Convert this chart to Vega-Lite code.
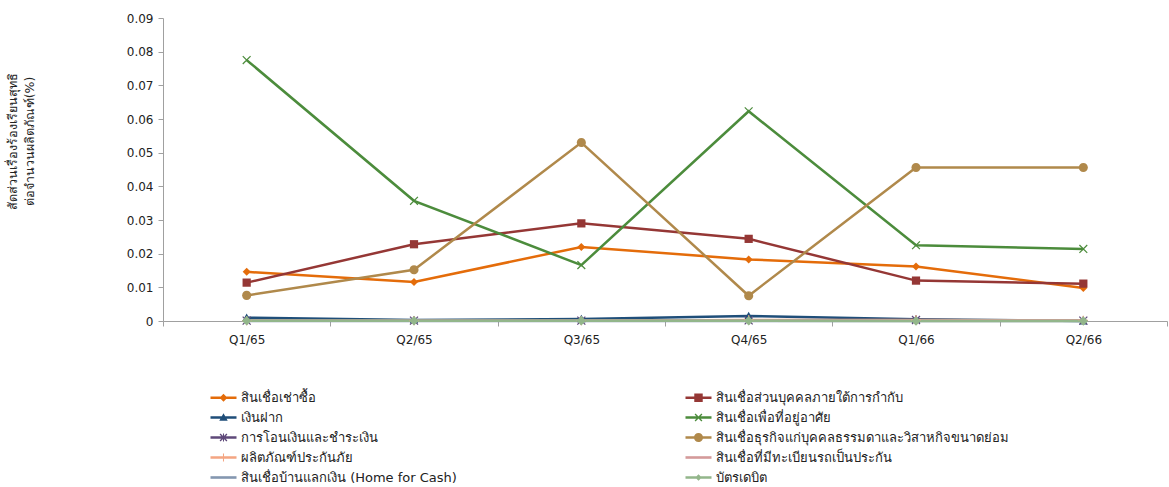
{
  "$schema": "https://vega.github.io/schema/vega-lite/v6.json",
  "autosize": {"type": "none"},
  "padding": {"left": 163, "top": 18, "right": 2, "bottom": 166},
  "width": 1004,
  "height": 303,
  "config": {
    "view": {"stroke": null},
    "font": "DejaVu Sans",
    "axis": {"grid": false, "domainColor": "#a0a0a0", "tickColor": "#a0a0a0", "labelColor": "#222222", "labelFontSize": 12, "tickSize": 5, "labelFont": "DejaVu Sans"}
  },
  "data": {"values": [
    {"q": "Q1/65", "s": "สินเชื่อเช่าซื้อ", "v": 0.0146},
    {"q": "Q2/65", "s": "สินเชื่อเช่าซื้อ", "v": 0.0116},
    {"q": "Q3/65", "s": "สินเชื่อเช่าซื้อ", "v": 0.022},
    {"q": "Q4/65", "s": "สินเชื่อเช่าซื้อ", "v": 0.0183},
    {"q": "Q1/66", "s": "สินเชื่อเช่าซื้อ", "v": 0.0162},
    {"q": "Q2/66", "s": "สินเชื่อเช่าซื้อ", "v": 0.0098},
    {"q": "Q1/65", "s": "สินเชื่อส่วนบุคคลภายใต้การกำกับ", "v": 0.0114},
    {"q": "Q2/65", "s": "สินเชื่อส่วนบุคคลภายใต้การกำกับ", "v": 0.0228},
    {"q": "Q3/65", "s": "สินเชื่อส่วนบุคคลภายใต้การกำกับ", "v": 0.029},
    {"q": "Q4/65", "s": "สินเชื่อส่วนบุคคลภายใต้การกำกับ", "v": 0.0244},
    {"q": "Q1/66", "s": "สินเชื่อส่วนบุคคลภายใต้การกำกับ", "v": 0.012},
    {"q": "Q2/66", "s": "สินเชื่อส่วนบุคคลภายใต้การกำกับ", "v": 0.0111},
    {"q": "Q1/65", "s": "เงินฝาก", "v": 0.001},
    {"q": "Q2/65", "s": "เงินฝาก", "v": 0.0003},
    {"q": "Q3/65", "s": "เงินฝาก", "v": 0.0006},
    {"q": "Q4/65", "s": "เงินฝาก", "v": 0.0015},
    {"q": "Q1/66", "s": "เงินฝาก", "v": 0.0005},
    {"q": "Q2/66", "s": "เงินฝาก", "v": 0.0},
    {"q": "Q1/65", "s": "สินเชื่อเพื่อที่อยู่อาศัย", "v": 0.0775},
    {"q": "Q2/65", "s": "สินเชื่อเพื่อที่อยู่อาศัย", "v": 0.0357},
    {"q": "Q3/65", "s": "สินเชื่อเพื่อที่อยู่อาศัย", "v": 0.0166},
    {"q": "Q4/65", "s": "สินเชื่อเพื่อที่อยู่อาศัย", "v": 0.0623},
    {"q": "Q1/66", "s": "สินเชื่อเพื่อที่อยู่อาศัย", "v": 0.0225},
    {"q": "Q2/66", "s": "สินเชื่อเพื่อที่อยู่อาศัย", "v": 0.0214},
    {"q": "Q1/65", "s": "การโอนเงินและชำระเงิน", "v": 0.0001},
    {"q": "Q2/65", "s": "การโอนเงินและชำระเงิน", "v": 0.0001},
    {"q": "Q3/65", "s": "การโอนเงินและชำระเงิน", "v": 0.0001},
    {"q": "Q4/65", "s": "การโอนเงินและชำระเงิน", "v": 0.0002},
    {"q": "Q1/66", "s": "การโอนเงินและชำระเงิน", "v": 0.0003},
    {"q": "Q2/66", "s": "การโอนเงินและชำระเงิน", "v": 0.0001},
    {"q": "Q1/65", "s": "สินเชื่อธุรกิจแก่บุคคลธรรมดาและวิสาหกิจขนาดย่อม", "v": 0.0076},
    {"q": "Q2/65", "s": "สินเชื่อธุรกิจแก่บุคคลธรรมดาและวิสาหกิจขนาดย่อม", "v": 0.0152},
    {"q": "Q3/65", "s": "สินเชื่อธุรกิจแก่บุคคลธรรมดาและวิสาหกิจขนาดย่อม", "v": 0.053},
    {"q": "Q4/65", "s": "สินเชื่อธุรกิจแก่บุคคลธรรมดาและวิสาหกิจขนาดย่อม", "v": 0.0075},
    {"q": "Q1/66", "s": "สินเชื่อธุรกิจแก่บุคคลธรรมดาและวิสาหกิจขนาดย่อม", "v": 0.0456},
    {"q": "Q2/66", "s": "สินเชื่อธุรกิจแก่บุคคลธรรมดาและวิสาหกิจขนาดย่อม", "v": 0.0456},
    {"q": "Q1/65", "s": "ผลิตภัณฑ์ประกันภัย", "v": 0.0001},
    {"q": "Q2/65", "s": "ผลิตภัณฑ์ประกันภัย", "v": 0.0001},
    {"q": "Q3/65", "s": "ผลิตภัณฑ์ประกันภัย", "v": 0.0001},
    {"q": "Q4/65", "s": "ผลิตภัณฑ์ประกันภัย", "v": 0.0003},
    {"q": "Q1/66", "s": "ผลิตภัณฑ์ประกันภัย", "v": 0.0003},
    {"q": "Q2/66", "s": "ผลิตภัณฑ์ประกันภัย", "v": 0.0002},
    {"q": "Q1/65", "s": "สินเชื่อที่มีทะเบียนรถเป็นประกัน", "v": 0.0001},
    {"q": "Q2/65", "s": "สินเชื่อที่มีทะเบียนรถเป็นประกัน", "v": 0.0001},
    {"q": "Q3/65", "s": "สินเชื่อที่มีทะเบียนรถเป็นประกัน", "v": 0.0001},
    {"q": "Q4/65", "s": "สินเชื่อที่มีทะเบียนรถเป็นประกัน", "v": 0.0001},
    {"q": "Q1/66", "s": "สินเชื่อที่มีทะเบียนรถเป็นประกัน", "v": 0.0001},
    {"q": "Q2/66", "s": "สินเชื่อที่มีทะเบียนรถเป็นประกัน", "v": 0.0001},
    {"q": "Q1/65", "s": "สินเชื่อบ้านแลกเงิน (Home for Cash)", "v": 0.0},
    {"q": "Q2/65", "s": "สินเชื่อบ้านแลกเงิน (Home for Cash)", "v": 0.0},
    {"q": "Q3/65", "s": "สินเชื่อบ้านแลกเงิน (Home for Cash)", "v": 0.0},
    {"q": "Q4/65", "s": "สินเชื่อบ้านแลกเงิน (Home for Cash)", "v": 0.0},
    {"q": "Q1/66", "s": "สินเชื่อบ้านแลกเงิน (Home for Cash)", "v": 0.0},
    {"q": "Q2/66", "s": "สินเชื่อบ้านแลกเงิน (Home for Cash)", "v": 0.0},
    {"q": "Q1/65", "s": "บัตรเดบิต", "v": 0.0001},
    {"q": "Q2/65", "s": "บัตรเดบิต", "v": 0.0001},
    {"q": "Q3/65", "s": "บัตรเดบิต", "v": 0.0001},
    {"q": "Q4/65", "s": "บัตรเดบิต", "v": 0.0001},
    {"q": "Q1/66", "s": "บัตรเดบิต", "v": 0.0},
    {"q": "Q2/66", "s": "บัตรเดบิต", "v": 0.0}
  ]},
  "encoding": {
    "x": {
      "field": "q", "type": "ordinal", "sort": null, "bandPosition": 0.5,
      "scale": {"type": "band", "paddingInner": 0, "paddingOuter": 0},
      "axis": {"title": null, "labelAngle": 0, "tickBand": "extent", "labelPadding": 8}
    },
    "y": {
      "field": "v", "type": "quantitative",
      "scale": {"domain": [0, 0.09], "nice": false, "zero": true},
      "axis": {
        "values": [0, 0.01, 0.02, 0.03, 0.04, 0.05, 0.06, 0.07, 0.08, 0.09],
        "format": ".2~f",
        "labelPadding": 5,
        "title": ["สัดส่วนเรื่องร้องเรียนสุทธิ", "ต่อจำนวนผลิตภัณฑ์(%)"],
        "titleFontSize": 12.5,
        "titleLineHeight": 17,
        "titleFontWeight": "normal",
        "titleColor": "#222222",
        "titleAngle": -90,
        "titleX": -157,
        "titleY": 123,
        "titleBaseline": "top",
        "titleAlign": "center"
      }
    }
  },
  "layer": [
    {
      "mark": {"type": "line", "strokeWidth": 2.5},
      "encoding": {
        "color": {
          "field": "s", "type": "nominal",
          "scale": {
            "domain": ["สินเชื่อเช่าซื้อ", "สินเชื่อส่วนบุคคลภายใต้การกำกับ", "เงินฝาก", "สินเชื่อเพื่อที่อยู่อาศัย", "การโอนเงินและชำระเงิน", "สินเชื่อธุรกิจแก่บุคคลธรรมดาและวิสาหกิจขนาดย่อม", "ผลิตภัณฑ์ประกันภัย", "สินเชื่อที่มีทะเบียนรถเป็นประกัน", "สินเชื่อบ้านแลกเงิน (Home for Cash)", "บัตรเดบิต"],
            "range": ["#e46c0a", "#953735", "#1f4e79", "#4c8c3c", "#5f497a", "#b0894b", "#f4a582", "#d49a9a", "#8497b0", "#93b68b"]
          },
          "legend": {
            "title": null,
            "orient": "none",
            "direction": "horizontal",
            "legendX": 54,
            "legendY": 373,
            "columns": 2,
            "columnPadding": 228,
            "rowPadding": 6,
            "labelFontSize": 13,
            "labelFont": "DejaVu Sans",
            "labelColor": "#222222",
            "labelLimit": 500,
            "labelOffset": 11,
            "symbolSize": 169,
            "encode": {
              "symbols": {
                "update": {
                  "fill": {"scale": "color", "field": "value"},
                  "strokeWidth": {"value": 0},
                  "shape": {"signal": "['M-2,-0.2H2V0.2H-2Z M0,-0.6L0.6,0L0,0.6L-0.6,0Z', 'M-2,-0.2H2V0.2H-2Z M-0.65,-0.65H0.65V0.65H-0.65Z', 'M-2,-0.2H2V0.2H-2Z M0,-0.65L0.65,0.5H-0.65Z', 'M-2,-0.2H2V0.2H-2Z M-0.6,-0.45L-0.45,-0.6L0.6,0.45L0.45,0.6Z M0.45,-0.6L0.6,-0.45L-0.45,0.6L-0.6,0.45Z', 'M-2,-0.2H2V0.2H-2Z M-0.6,-0.45L-0.45,-0.6L0.6,0.45L0.45,0.6Z M0.45,-0.6L0.6,-0.45L-0.45,0.6L-0.6,0.45Z M-0.08,-0.6H0.08V0.6H-0.08Z', 'M-2,-0.2H2V0.2H-2Z M-0.7,0A0.7,0.7 0 1,1 0.7,0A0.7,0.7 0 1,1 -0.7,0Z', 'M-2,-0.2H2V0.2H-2Z M-0.08,-0.6H0.08V0.6H-0.08Z', 'M-2,-0.2H2V0.2H-2Z', 'M-2,-0.2H2V0.2H-2Z', 'M-2,-0.2H2V0.2H-2Z M0,-0.5L0.5,0L0,0.5L-0.5,0Z'][indexof(['สินเชื่อเช่าซื้อ', 'สินเชื่อส่วนบุคคลภายใต้การกำกับ', 'เงินฝาก', 'สินเชื่อเพื่อที่อยู่อาศัย', 'การโอนเงินและชำระเงิน', 'สินเชื่อธุรกิจแก่บุคคลธรรมดาและวิสาหกิจขนาดย่อม', 'ผลิตภัณฑ์ประกันภัย', 'สินเชื่อที่มีทะเบียนรถเป็นประกัน', 'สินเชื่อบ้านแลกเงิน (Home for Cash)', 'บัตรเดบิต'], datum.value)]"}
                }
              }
            }
          }
        }
      }
    },
    {
      "transform": [{"filter": {"not": {"field": "s", "oneOf": ["สินเชื่อที่มีทะเบียนรถเป็นประกัน", "สินเชื่อบ้านแลกเงิน (Home for Cash)"]}}}],
      "mark": {"type": "point", "filled": true, "opacity": 1},
      "encoding": {
        "color": {"field": "s", "type": "nominal", "legend": null},
        "shape": {
          "field": "s", "type": "nominal", "legend": null,
          "scale": {
            "domain": ["สินเชื่อเช่าซื้อ", "สินเชื่อส่วนบุคคลภายใต้การกำกับ", "เงินฝาก", "สินเชื่อเพื่อที่อยู่อาศัย", "การโอนเงินและชำระเงิน", "สินเชื่อธุรกิจแก่บุคคลธรรมดาและวิสาหกิจขนาดย่อม", "ผลิตภัณฑ์ประกันภัย", "บัตรเดบิต"],
            "range": ["M0,-1L1,0L0,1L-1,0Z", "M-1,-1H1V1H-1Z", "M0,-1L1,0.8H-1Z", "M-1,-0.8L-0.8,-1L1,0.8L0.8,1Z M0.8,-1L1,-0.8L-0.8,1L-1,0.8Z", "M-1,-0.8L-0.8,-1L1,0.8L0.8,1Z M0.8,-1L1,-0.8L-0.8,1L-1,0.8Z M-0.14,-1H0.14V1H-0.14Z", "M-1,0A1,1 0 1,1 1,0A1,1 0 1,1 -1,0Z", "M-0.14,-1H0.14V1H-0.14Z M-1,-0.14H1V0.14H-1Z", "M0,-1L1,0L0,1L-1,0Z"]
          }
        },
        "size": {
          "field": "s", "type": "nominal", "legend": null,
          "scale": {
            "domain": ["สินเชื่อเช่าซื้อ", "สินเชื่อส่วนบุคคลภายใต้การกำกับ", "เงินฝาก", "สินเชื่อเพื่อที่อยู่อาศัย", "การโอนเงินและชำระเงิน", "สินเชื่อธุรกิจแก่บุคคลธรรมดาและวิสาหกิจขนาดย่อม", "ผลิตภัณฑ์ประกันภัย", "บัตรเดบิต"],
            "range": [64, 90, 80, 80, 70, 120, 70, 50]
          }
        }
      }
    }
  ]
}
